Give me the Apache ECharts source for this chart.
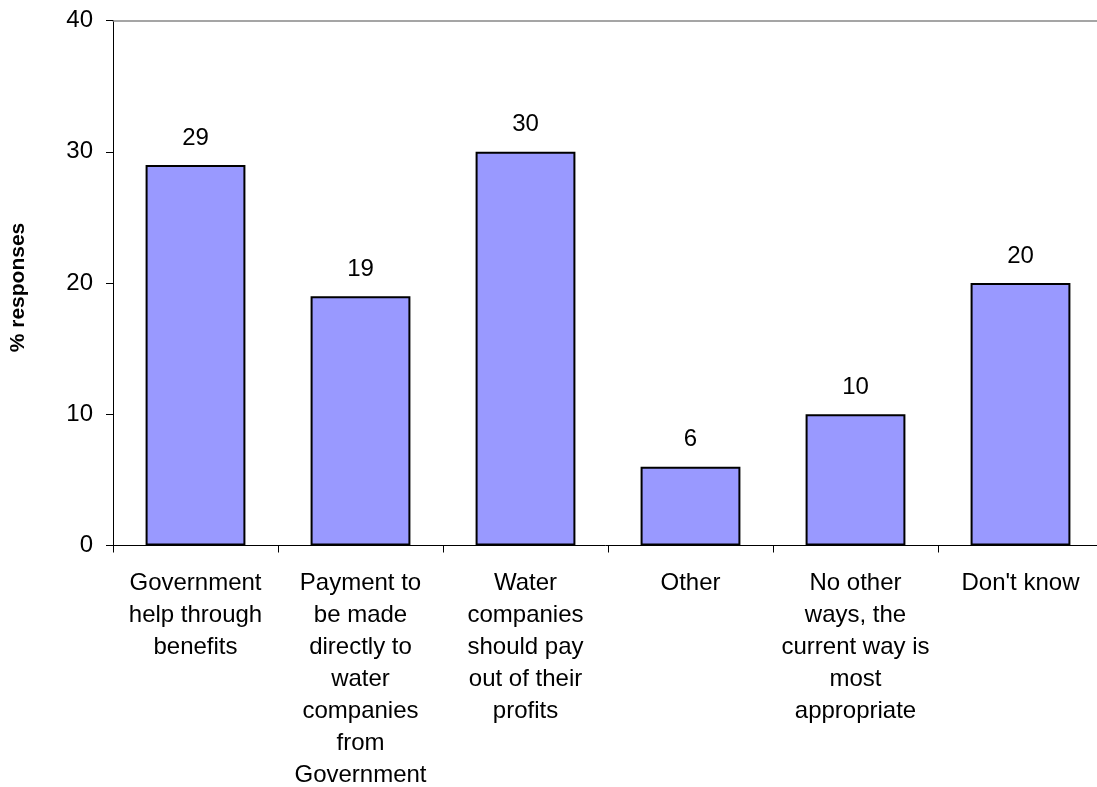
<!DOCTYPE html>
<html>
<head>
<meta charset="utf-8">
<script src="https://cdn.jsdelivr.net/npm/echarts@6/dist/echarts.min.js"></script>
<style>
  html, body { margin: 0; padding: 0; background: #fff; }
  #chart { width: 1097px; height: 787px; }
</style>
</head>
<body>
<div id="chart"></div>
<script>
// Survey answers: how should help with water bills be funded
const categories = [
  'Government\nhelp through\nbenefits',
  'Payment to\nbe made\ndirectly to\nwater\ncompanies\nfrom\nGovernment',
  'Water\ncompanies\nshould pay\nout of their\nprofits',
  'Other',
  'No other\nways, the\ncurrent way is\nmost\nappropriate',
  "Don't know"
];
const responses = [29, 19, 30, 6, 10, 20];
const yTicks = { min: 0, max: 40, interval: 10 };
const yAxisTitle = '% responses';

const FONT = '"Liberation Sans", Arial, sans-serif';

const chart = echarts.init(document.getElementById('chart'), null, { renderer: 'canvas' });

chart.setOption({
  backgroundColor: '#ffffff',
  animation: false,
  grid: {
    left: 113, top: 20.5, right: -6, bottom: 241.5,
    containLabel: false,
    outerBoundsMode: 'none'
  },
  xAxis: [
    {
      type: 'category',
      data: categories,
      position: 'bottom',
      axisLine: { show: true, lineStyle: { color: '#000', width: 1 } },
      axisTick: { show: true, length: 7, inside: false, lineStyle: { color: '#000' } },
      axisLabel: {
        interval: 0,
        color: '#000',
        fontFamily: FONT,
        fontSize: 24,
        lineHeight: 32,
        margin: 22,
        align: 'center'
      },
      splitLine: { show: false }
    },
    {
      // frame line along the top of the plot
      type: 'category',
      data: categories,
      position: 'top',
      axisLine: { show: true, lineStyle: { color: '#888', width: 1.5 } },
      axisTick: { show: false },
      axisLabel: { show: false },
      splitLine: { show: false }
    }
  ],
  yAxis: {
    type: 'value',
    min: yTicks.min,
    max: yTicks.max,
    interval: yTicks.interval,
    name: yAxisTitle,
    nameLocation: 'middle',
    nameRotate: 90,
    nameGap: 84,
    nameTextStyle: {
      color: '#000',
      fontFamily: FONT,
      fontSize: 21,
      fontWeight: 'bold',
      padding: [0, 9, 0, 0]
    },
    axisLine: { show: true, lineStyle: { color: '#000', width: 1 } },
    axisTick: { show: true, length: 7, lineStyle: { color: '#000' } },
    axisLabel: {
      color: '#000',
      fontFamily: FONT,
      fontSize: 24,
      margin: 20
    },
    splitLine: { show: false }
  },
  series: [
    {
      type: 'bar',
      xAxisIndex: 0,
      data: responses,
      barWidth: '60.5%',
      itemStyle: {
        color: '#9999FF',
        borderColor: '#000',
        borderWidth: 2
      },
      label: {
        show: true,
        position: 'top',
        distance: 15,
        color: '#000',
        fontFamily: FONT,
        fontSize: 24
      }
    }
  ]
});
</script>
</body>
</html>
